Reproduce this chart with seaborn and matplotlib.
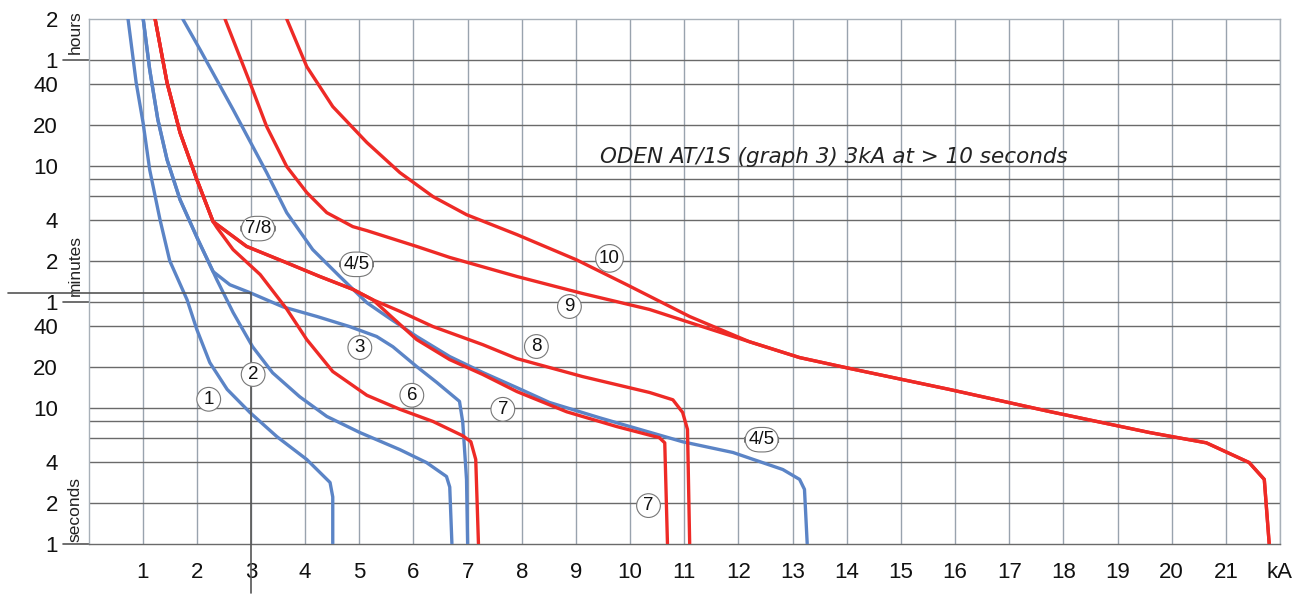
import numpy as np
import pandas as pd
import matplotlib
matplotlib.use('Agg')
import matplotlib.pyplot as plt
import seaborn as sns

sns.set_style('white')
plt.rcParams['font.family'] = ['Liberation Sans', 'DejaVu Sans']

# current (kA) / time (s) curves
c1_ka = [0.73, 0.88, 1.01, 1.13, 1.32, 1.50, 1.82, 2.00, 2.24, 2.56, 2.98, 3.48, 4.03, 4.46, 4.51, 4.51]
c1_s = [7200, 2455, 1225, 560, 241, 120, 62, 37.5, 21.4, 13.6, 9.2, 6.1, 4.15, 2.81, 2.2, 1.0]

c23_top_ka = [1.01, 1.13, 1.28, 1.45, 1.69, 2.02, 2.30]
c23_top_s = [7200, 3055, 1312, 666, 338, 172, 100]

c2_ka = c23_top_ka + [2.37, 2.67, 3.03, 3.40, 3.90, 4.40, 5.01, 5.75, 6.24, 6.61, 6.67, 6.71]
c2_s = c23_top_s + [87, 50, 28, 18, 12, 8.6, 6.55, 4.9, 3.94, 3.11, 2.6, 1.0]

c3_ka = c23_top_ka + [2.61, 2.98, 3.59, 4.22, 4.82, 5.32, 5.62, 6.06, 6.43, 6.85, 6.91, 6.98, 7.00]
c3_s = c23_top_s + [80, 70, 55, 46.7, 39.4, 33.3, 28, 20, 15.3, 11.1, 7.8, 2.96, 1.0]

c45_ka = [1.74, 2.06, 2.67, 3.29, 3.66, 4.14, 4.64, 5.14, 5.51, 6.06, 6.67, 7.28, 7.91, 8.51,
          9.44, 10.97, 11.90, 12.82, 13.13, 13.22, 13.27]
c45_s = [7200, 4290, 1553, 534, 271, 145, 92, 59, 46.7, 33.3, 23.7, 18.1, 14, 10.9,
         8.4, 5.6, 4.67, 3.5, 2.96, 2.5, 1.0]

c678_top_ka = [1.23, 1.45, 1.69, 2.00, 2.30]
c678_top_s = [7200, 2455, 1052, 475, 233]

c6_ka = c678_top_ka + [2.37, 2.67, 3.17, 3.66, 4.03, 4.51, 5.14, 5.75, 6.36, 6.91, 7.06, 7.15, 7.20]
c6_s = c678_top_s + [211, 145, 95, 53, 31.6, 18.4, 12.3, 9.7, 7.9, 6.2, 5.6, 4.15, 1.0]

c78_mid_ka = [2.92, 3.66, 4.27, 4.88, 5.25]
c78_mid_s = [153, 116, 92, 74, 62]

c7_ka = c678_top_ka + c78_mid_ka + [5.65, 6.06, 6.67, 7.28, 7.91, 8.83, 9.75, 10.54, 10.64, 10.69]
c7_s = c678_top_s + c78_mid_s + [44.4, 31.6, 22.5, 17.5, 13.1, 9.3, 7.25, 6.0, 5.5, 1.0]

c8_ka = c678_top_ka + c78_mid_ka + [5.75, 6.36, 7.28, 7.91, 9.12, 10.36, 10.79, 10.97, 11.06, 11.10]
c8_s = c678_top_s + c78_mid_s + [51, 39.4, 29, 22.9, 16.9, 12.9, 11.4, 9.2, 6.9, 1.0]

c910_tail_ka = [12.20, 13.13, 14.05, 15.89, 17.74, 19.59, 20.64, 21.43, 21.71, 21.80]
c910_tail_s = [30.5, 23.3, 19.4, 13.6, 9.35, 6.55, 5.5, 3.94, 2.96, 1.0]

c9_ka = [2.52, 2.98, 3.29, 3.66, 4.03, 4.40, 4.88, 5.14, 6.06, 6.67, 7.91, 9.12, 10.36, 11.28] + c910_tail_ka
c9_s = [7200, 2455, 1164, 592, 381, 271, 214, 200, 153, 127, 92, 69, 52.6, 40] + c910_tail_s

c10_ka = [3.66, 4.03, 4.51, 5.14, 5.75, 6.36, 6.98, 7.91, 9.01, 9.94, 11.10] + c910_tail_ka
c10_s = [7200, 3215, 1634, 889, 534, 356, 262, 187, 122, 80, 46.7] + c910_tail_s

blue_curves = [(c1_ka, c1_s), (c2_ka, c2_s), (c3_ka, c3_s), (c45_ka, c45_s)]
red_curves = [(c6_ka, c6_s), (c7_ka, c7_s), (c8_ka, c8_s), (c9_ka, c9_s), (c10_ka, c10_s)]

# curve labels
lab_text = ['1', '2', '3', '6', '7', '7', '8', '9', '10', '7/8', '4/5', '4/5']
lab_ka = [2.22, 3.04, 5.01, 5.97, 7.65, 10.34, 8.27, 8.88, 9.62, 3.13, 4.95, 12.43]
lab_s = [11.5, 17.5, 27.6, 12.3, 9.7, 1.9, 28.1, 55.3, 125, 207, 113, 5.8]

x_ticks = list(range(1, 23))
x_labels = [str(i) for i in range(1, 22)] + ['kA']
y_ticks = [1, 2, 4, 10, 20, 40, 60, 120, 240, 600, 1200, 2400, 3600, 7200]
y_labels = ['1', '2', '4', '10', '20', '40', '1', '2', '4', '10', '20', '40', '1', '2']
y_grid = [2, 4, 6, 8, 10, 20, 40, 60, 120, 240, 360, 480, 600, 1200, 2400, 3600]

BLUE = '#5b84c6'
RED = '#ee2a26'

fig = plt.figure(figsize=(13.03, 5.94), dpi=100)
ax = fig.add_axes([88.5 / 1303, 50.5 / 594, 1191.5 / 1303, 524.5 / 594])
ax.set_yscale('log')
ax.set_xlim(0, 22)
ax.set_ylim(1, 7200)

# grid
for v in x_ticks:
    ax.axvline(v, color='#99a3ae', lw=1.0, zorder=1)
for v in y_grid:
    ax.axhline(v, color='#6a6a6a', lw=1.0, zorder=1)

for ka, s in blue_curves:
    sns.lineplot(x=ka, y=s, sort=False, estimator=None, color=BLUE, lw=2.4, ax=ax, zorder=3)
for ka, s in red_curves:
    sns.lineplot(x=ka, y=s, sort=False, estimator=None, color=RED, lw=2.4, ax=ax, zorder=4)

for t, x, y in zip(lab_text, lab_ka, lab_s):
    if '/' in t:
        box = dict(boxstyle='round,pad=0.2,rounding_size=0.8', fc='white', ec='#777777', lw=0.8)
    else:
        box = dict(boxstyle='circle,pad=0.18', fc='white', ec='#777777', lw=0.8)
    ax.text(x, y, t, ha='center', va='center', fontsize=13.5, color='#111111', bbox=box, zorder=6)

ax.text(9.44, 700, 'ODEN AT/1S (graph 3) 3kA at > 10 seconds', family=['DejaVu Sans'],
        style='italic', fontsize=15.5, color='#222222', ha='left', va='center', zorder=6)

# 3 kA crosshair
ax.plot([-1.49, 3], [70, 70], color='#555555', lw=1.2, clip_on=False, zorder=5)
ax.plot([3, 3], [70, 0.43], color='#555555', lw=1.2, clip_on=False, zorder=5)

# long ticks at 1 h, 1 min, 1 s
for v in [1, 60, 3600]:
    ax.plot([-0.021, 0], [v, v], color='#555555', lw=1.2, clip_on=False,
            transform=ax.get_yaxis_transform())

ax.set_xticks(x_ticks)
ax.set_xticklabels(x_labels)
ax.set_yticks(y_ticks)
ax.set_yticklabels(y_labels)
ax.minorticks_off()
ax.tick_params(axis='both', length=0, labelsize=16, colors='#111111')
ax.tick_params(axis='x', pad=13)
ax.tick_params(axis='y', pad=22)
ax.set_xlabel('')
ax.set_ylabel('')

for name, yc in [('hours', 5720), ('minutes', 111), ('seconds', 1.78)]:
    ax.text(-0.011, yc, name, rotation=90, ha='center', va='center', fontsize=12.5,
            color='#222222', transform=ax.get_yaxis_transform())

for sp in ['top', 'right', 'left']:
    ax.spines[sp].set_color('#a8b0b8')
    ax.spines[sp].set_linewidth(1.0)
ax.spines['bottom'].set_color('#6a6a6a')
ax.spines['bottom'].set_linewidth(1.0)

fig.savefig('out.png', dpi=100)
